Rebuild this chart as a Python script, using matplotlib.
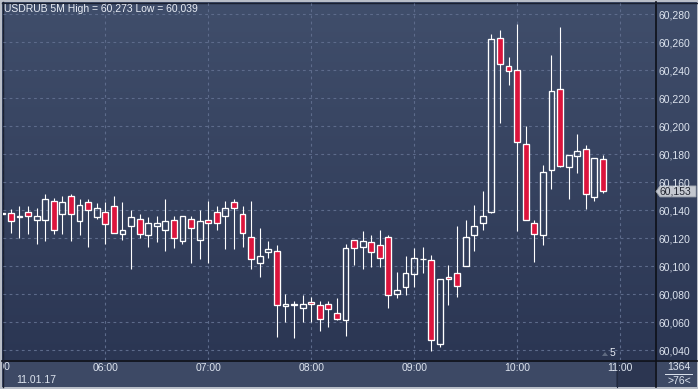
import matplotlib
matplotlib.use("Agg")
import matplotlib.pyplot as plt
import numpy as np
from matplotlib.patches import Rectangle, Polygon
from matplotlib.ticker import FuncFormatter
from matplotlib.transforms import Bbox, TransformedBbox

# USDRUB 5M candles, 05:00 .. 10:50 (11.01.17)
opens = [60.1378, 60.1379, 60.1352, 60.1386, 60.1329, 60.1329, 60.1462, 60.1371, 60.1500, 60.1321,
         60.1457, 60.1350, 60.1386, 60.1429, 60.1229, 60.1286, 60.1336, 60.1221, 60.1286, 60.1257,
         60.1329, 60.1179, 60.1336, 60.1186, 60.1329, 60.1386, 60.1357, 60.1457, 60.1371, 60.1207,
         60.1019, 60.1100, 60.1107, 60.0714, 60.0724, 60.0700, 60.0743, 60.0721, 60.0729, 60.0664,
         60.0614, 60.1186, 60.1136, 60.1171, 60.1150, 60.1207, 60.0800, 60.0850, 60.0943, 60.1050,
         60.1043, 60.0443, 60.0921, 60.0950, 60.1003, 60.1225, 60.1311, 60.1383, 60.2629, 60.2428,
         60.2400, 60.1870, 60.1311, 60.1225, 60.1684, 60.2263, 60.1705, 60.1784, 60.1834, 60.1490,
         60.1762]
highs = [60.1385, 60.1410, 60.1431, 60.1431, 60.1417, 60.1517, 60.1486, 60.1502, 60.1517, 60.1479,
         60.1481, 60.1452, 60.1460, 60.1502, 60.1460, 60.1400, 60.1371, 60.1350, 60.1357, 60.1481,
         60.1357, 60.1359, 60.1357, 60.1400, 60.1464, 60.1429, 60.1464, 60.1481, 60.1431, 60.1464,
         60.1271, 60.1181, 60.1150, 60.0802, 60.0752, 60.0795, 60.0781, 60.0752, 60.0752, 60.0774,
         60.1157, 60.1189, 60.1252, 60.1221, 60.1257, 60.1221, 60.0957, 60.1071, 60.1129, 60.1136,
         60.1079, 60.0907, 60.1007, 60.1283, 60.1326, 60.1433, 60.1533, 60.2660, 60.2686, 60.2493,
         60.2729, 60.1999, 60.1326, 60.1719, 60.2507, 60.2710, 60.1791, 60.1941, 60.1863, 60.1769,
         60.1791]
lows = [60.1365, 60.1233, 60.1198, 60.1226, 60.1155, 60.1176, 60.1226, 60.1226, 60.1176, 60.1219,
        60.1133, 60.1336, 60.1155, 60.1233, 60.1183, 60.0979, 60.1198, 60.1133, 60.1169, 60.1105,
        60.1126, 60.1157, 60.1019, 60.1048, 60.1019, 60.1255, 60.1119, 60.1119, 60.1133, 60.0976,
        60.0919, 60.1055, 60.0490, 60.0598, 60.0483, 60.0598, 60.0598, 60.0533, 60.0567, 60.0618,
        60.0498, 60.1005, 60.0976, 60.0990, 60.0990, 60.0700, 60.0769, 60.0793, 60.0850, 60.0950,
        60.0392, 60.0421, 60.0719, 60.0776, 60.1000, 60.1108, 60.1261, 60.1380, 60.2025, 60.2290,
        60.1252, 60.1326, 60.1030, 60.1151, 60.1552, 60.1710, 60.1481, 60.1667, 60.1409, 60.1462,
        60.1519]
closes = [60.1374, 60.1319, 60.1354, 60.1357, 60.1357, 60.1479, 60.1257, 60.1457, 60.1371, 60.1436,
          60.1400, 60.1417, 60.1300, 60.1236, 60.1257, 60.1350, 60.1229, 60.1307, 60.1307, 60.1321,
          60.1200, 60.1357, 60.1271, 60.1321, 60.1307, 60.1307, 60.1414, 60.1414, 60.1236, 60.1050,
          60.1069, 60.1121, 60.0721, 60.0729, 60.0726, 60.0729, 60.0729, 60.0621, 60.0693, 60.0621,
          60.1129, 60.1129, 60.1179, 60.1100, 60.1057, 60.0793, 60.0829, 60.0950, 60.1057, 60.1052,
          60.0471, 60.0907, 60.0907, 60.0857, 60.1211, 60.1283, 60.1361, 60.2621, 60.2442, 60.2392,
          60.1884, 60.1326, 60.1232, 60.1669, 60.2249, 60.1712, 60.1791, 60.1820, 60.1512, 60.1769,
          60.1533]

hour_labels = ["05:00", "06:00", "07:00", "08:00", "09:00", "10:00", "11:00"]
price_ticks = [60.040, 60.060, 60.080, 60.100, 60.120, 60.140, 60.160,
               60.180, 60.200, 60.220, 60.240, 60.260, 60.280]
last_price = closes[-1]
day_high = max(highs)
day_low = min(lows)

W, H = 698, 389
RED = "#dc143c"
TXT = "#dde4ef"
GRID = "#5d6b8b"
YMIN, YMAX = 60.0329, 60.2879


def px_rect(l, t, r, b):
    return [l / W, 1 - b / H, (r - l) / W, (b - t) / H]


def comma(v, pos=None):
    return f"{v:.3f}".replace(".", ",")


plt.rcParams["font.family"] = ["Liberation Sans", "DejaVu Sans"]
fig = plt.figure(figsize=(W / 100, H / 100), dpi=100)
fig.patch.set_facecolor("#b9bec8")

# background panels in pixel coordinates
bg = fig.add_axes([0, 0, 1, 1], zorder=0)
bg.set_xlim(0, W)
bg.set_ylim(H, 0)
bg.axis("off")
grad = np.linspace(0, 1, 256).reshape(-1, 1)
top_c = np.array([0x40, 0x4e, 0x6b]) / 255
bot_c = np.array([0x2b, 0x36, 0x53]) / 255
img = top_c + (bot_c - top_c) * grad[:, :, None]
bg.imshow(img, extent=(2, 697, 360, 2), aspect="auto", interpolation="bilinear")
bg.add_patch(Rectangle((2, 360), 695, 27, color="#3d4965", lw=0))
bg.add_patch(Rectangle((616, 361), 39, 26, color="#2c3651", lw=0))
bg.plot([616.5, 616.5], [361, 387], color="#222a3e", lw=0.8)
bg.plot([2, 697], [360.5, 360.5], color="#0d1018", lw=1.2)
bg.plot([655.5, 655.5], [2, 387], color="#0d1018", lw=1.2)
bg.plot([2, 697], [2.5, 2.5], color="#1a2030", lw=1)
bg.plot([2.5, 2.5], [2, 387], color="#1a2030", lw=1)

# main chart
ax = fig.add_axes(px_rect(3, 3, 655, 360), zorder=2)
ax.patch.set_alpha(0)
ax.set_xlim(0.08, 76.07)
ax.set_ylim(YMIN, YMAX)
for s in ax.spines.values():
    s.set_visible(False)

hour_pos = [i * 12 for i in range(len(hour_labels))]
for hp in hour_pos:
    ax.axvline(hp, color=GRID, lw=0.8, ls=(0, (2.5, 3)), zorder=1)
for pt in price_ticks:
    ax.axhline(pt, color=GRID, lw=0.8, ls=(0, (2.5, 3)), zorder=1)

x = np.arange(len(opens))
o = np.array(opens)
c = np.array(closes)
hi = np.array(highs)
lo = np.array(lows)
body_top = np.maximum(o, c)
body_bot = np.minimum(o, c)
ax.vlines(x, body_top, hi, color="white", lw=0.8, zorder=3)
ax.vlines(x, lo, body_bot, color="white", lw=0.8, zorder=3)
up = c >= o
ax.bar(x[up], (body_top - body_bot)[up], bottom=body_bot[up], width=0.68,
       facecolor="none", edgecolor="white", lw=0.95, zorder=4)
ax.bar(x[~up], (body_top - body_bot)[~up], bottom=body_bot[~up], width=0.68,
       facecolor=RED, edgecolor="white", lw=0.95, zorder=4)

# axes labels
ax.yaxis.tick_right()
ax.set_yticks(price_ticks)
ax.yaxis.set_major_formatter(FuncFormatter(comma))
ax.tick_params(axis="y", length=0, pad=2.2, labelsize=7.5, labelcolor=TXT)
ax.set_xticks(hour_pos[1:])
ax.set_xticklabels(hour_labels[1:])
ax.tick_params(axis="x", length=0, pad=2.5, labelsize=7.5, labelcolor=TXT)

# first hour label, cut by the panel edge
t0 = bg.text(10.5, 367.5, hour_labels[0], fontsize=7.5, color=TXT, ha="right", va="center")
t0.set_clip_box(TransformedBbox(Bbox([[3, 361], [655, 387]]), bg.transData))
t0.set_clip_on(True)
bg.text(16, 380, "11.01.17", fontsize=7.5, color=TXT, ha="left", va="center")

# title
fig.text(4 / W, 1 - 8.5 / H,
         f"USDRUB 5M High = {comma(day_high)} Low = {comma(day_low)}",
         fontsize=7.5, color="#e9edf5", ha="left", va="center")

# last price marker
ly = 360 - (last_price - YMIN) / (YMAX - YMIN) * 357
bg.add_patch(Polygon([[656, ly], [660, ly - 5.5], [696, ly - 5.5], [696, ly + 5.5], [660, ly + 5.5]],
                     closed=True, facecolor="#c3c7cf", edgecolor="#9aa0ab", lw=0.6, zorder=5))
bg.text(659, ly, comma(last_price), fontsize=7.5, color="#202430", ha="left", va="center", zorder=6)

# bottom right counters
bg.text(679, 367, "1364", fontsize=7.5, color=TXT, ha="center", va="center")
bg.plot([665, 692], [374, 374], color=TXT, lw=0.7)
bg.text(679, 381, ">76<", fontsize=7.5, color=TXT, ha="center", va="center")

# scroll marker
bg.add_patch(Polygon([[602, 356], [605, 352], [608, 356]], closed=True, color="#5f6a80", lw=0))
bg.text(612, 353.5, "5", fontsize=7.5, color="#e9edf5", ha="center", va="center")

fig.savefig("out.png", dpi=100, facecolor=fig.get_facecolor())
